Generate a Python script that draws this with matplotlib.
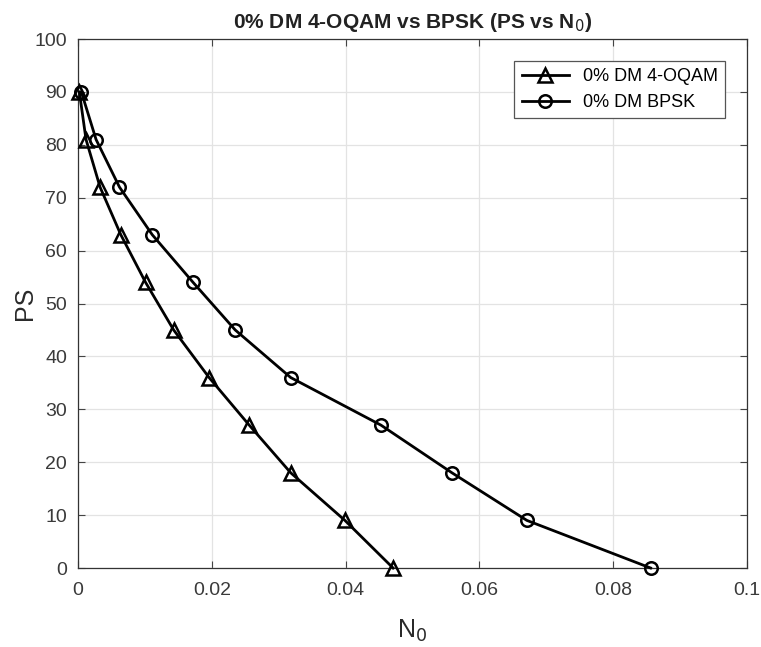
import matplotlib.pyplot as plt
import numpy as np

plt.rcParams['font.family'] = ['Liberation Sans', 'DejaVu Sans']

# PS levels (same for both curves)
ps = [90, 81, 72, 63, 54, 45, 36, 27, 18, 9, 0]
# N0 values
n0_oqam = [0.0002, 0.0012, 0.0033, 0.0064, 0.0101, 0.0143, 0.0196, 0.0256, 0.0318, 0.0399, 0.0471]
n0_bpsk = [0.0005, 0.0027, 0.0062, 0.0111, 0.0172, 0.0235, 0.0318, 0.0453, 0.0559, 0.0671, 0.0856]

fig = plt.figure(figsize=(7.61, 6.47), dpi=100)
ax = fig.add_axes([0.1025, 0.1221, 0.879, 0.8176])

ax.plot(n0_oqam, ps, color='black', lw=2, marker='^', ms=10, mfc='none', mew=1.8,
        label='0% DM 4-OQAM', clip_on=False, zorder=3)
ax.plot(n0_bpsk, ps, color='black', lw=2, marker='o', ms=9, mfc='none', mew=1.8,
        label='0% DM BPSK', clip_on=False, zorder=3)

ax.set_xlim(0, 0.1)
ax.set_ylim(0, 100)
ax.set_xticks(np.arange(0, 0.101, 0.02))
ax.set_xticklabels(['0', '0.02', '0.04', '0.06', '0.08', '0.1'])
ax.set_yticks(np.arange(0, 101, 10))
ax.grid(True, color='#e3e3e3', lw=0.9)
ax.tick_params(labelsize=14, direction='in', length=5, color='#444444', labelcolor='#3a3a3a',
               top=True, right=True)
ax.tick_params(axis='x', pad=10)
ax.tick_params(axis='y', pad=8)
for s in ax.spines.values():
    s.set_color('#333333')
    s.set_linewidth(0.9)

ax.set_xlabel('N$_0$', fontsize=18, color='#2a2a2a')
ax.xaxis.set_label_coords(0.5, -0.095)
ax.set_ylabel('PS', fontsize=18, color='#2a2a2a')
ax.yaxis.set_label_coords(-0.062, 0.5)
ax.set_title('0% DM 4-OQAM vs BPSK (PS vs N$_0$)', fontsize=15, fontweight='bold', pad=8,
             color='#222222')

leg = ax.legend(loc='upper right', fontsize=13, fancybox=False, edgecolor='#555555',
                handlelength=2.6, borderaxespad=1.2, framealpha=1)
leg.get_frame().set_linewidth(0.9)

fig.savefig('out.png', dpi=100)
